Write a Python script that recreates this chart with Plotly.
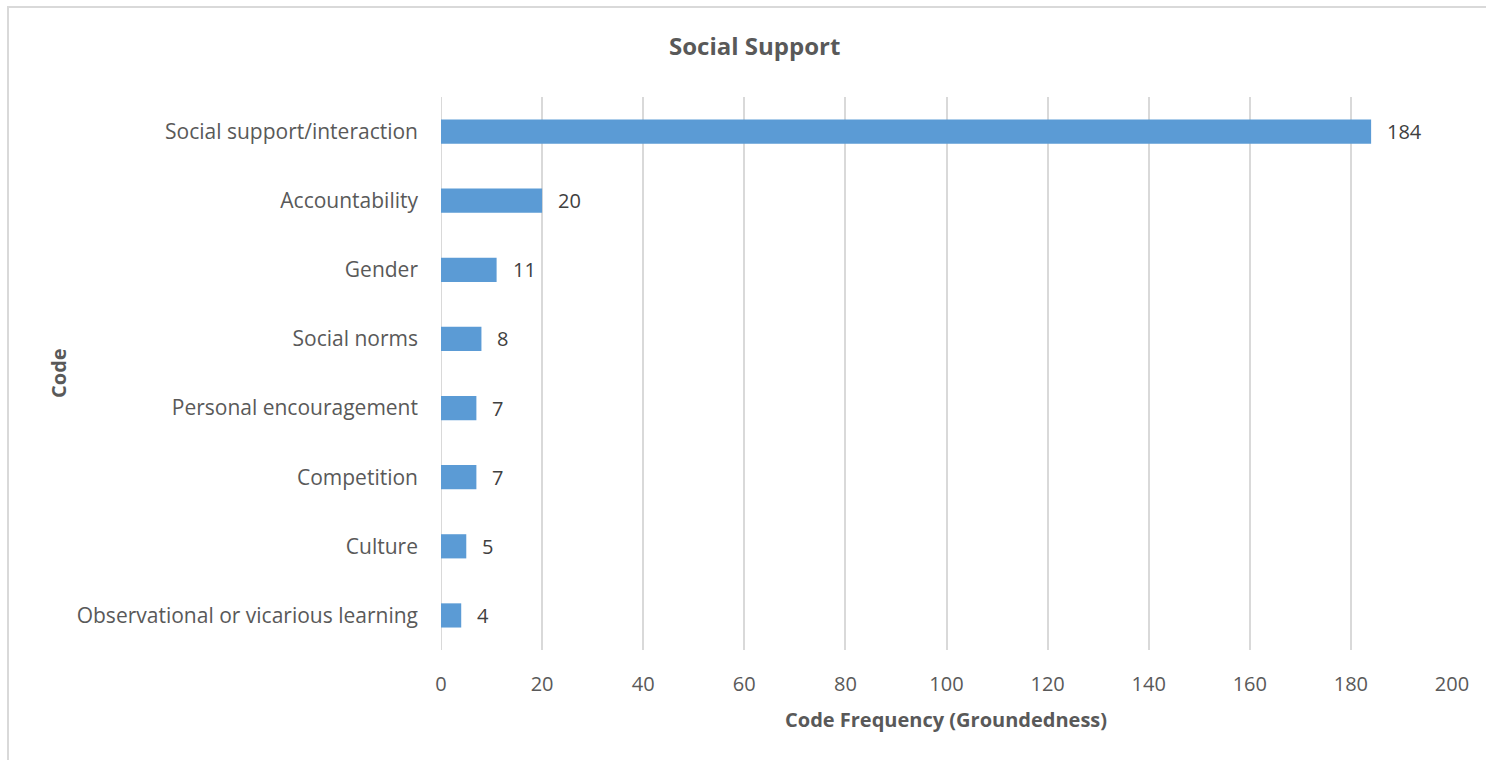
import plotly.graph_objects as go

# Code frequencies for the "Social Support" theme (top to bottom)
codes = [
    "Social support/interaction",
    "Accountability",
    "Gender",
    "Social norms",
    "Personal encouragement",
    "Competition",
    "Culture",
    "Observational or vicarious learning",
]
frequency = [184, 20, 11, 8, 7, 7, 5, 4]

x_ticks = [0, 20, 40, 60, 80, 100, 120, 140, 160, 180, 200]

W, H = 1486, 760
L, R, T, B = 441, 34, 97, 110
PW, PH = W - L - R, H - T - B


def px_x(p):
    return (p - L) / PW


def px_y(p):
    return 1 - (p - T) / PH


FONT = "Open Sans"
GREY = "#595959"
GRID = "#d9d9d9"

fig = go.Figure(
    go.Bar(
        x=frequency,
        y=codes,
        orientation="h",
        marker=dict(color="#5b9bd5", line=dict(width=0)),
        width=0.35,
        hoverinfo="x+y",
    )
)

# value labels just past each bar end
for c, v in zip(codes, frequency):
    fig.add_annotation(
        x=v, y=c, xref="x", yref="y", text=str(v), showarrow=False,
        xanchor="left", yanchor="middle", xshift=14,
        font=dict(family=FONT, size=20, color="#404040"),
    )

# chart title and axis titles
fig.add_annotation(
    x=px_x(754), y=px_y(46), xref="paper", yref="paper", text="<b>Social Support</b>",
    showarrow=False, xanchor="center", yanchor="middle",
    font=dict(family=FONT, size=24, color=GREY),
)
fig.add_annotation(
    x=px_x(946), y=px_y(719), xref="paper", yref="paper",
    text="<b>Code Frequency (Groundedness)</b>",
    showarrow=False, xanchor="center", yanchor="middle",
    font=dict(family=FONT, size=20, color=GREY),
)
fig.add_annotation(
    x=px_x(58), y=px_y(373), xref="paper", yref="paper", text="<b>Code</b>",
    showarrow=False, xanchor="center", yanchor="middle", textangle=-90,
    font=dict(family=FONT, size=20, color=GREY),
)

# thin outer frame of the chart area
fig.add_shape(
    type="rect", xref="paper", yref="paper",
    x0=px_x(8), x1=px_x(1500), y0=px_y(775), y1=px_y(7),
    line=dict(color=GRID, width=2), fillcolor="rgba(0,0,0,0)", layer="below",
)

# gridline at the left edge of the value axis (x = 0)
fig.add_shape(
    type="line", xref="x", yref="paper", x0=0, x1=0, y0=0, y1=1,
    line=dict(color=GRID, width=2), layer="below",
)

fig.update_layout(
    width=W, height=H,
    margin=dict(l=L, r=R, t=T, b=B, autoexpand=False),
    paper_bgcolor="white",
    plot_bgcolor="white",
    showlegend=False,
    xaxis=dict(
        range=[0, 200],
        tickvals=x_ticks,
        showgrid=True, gridcolor=GRID, gridwidth=2,
        zeroline=False,
        showline=False, ticks="",
        ticklabelstandoff=20,
        tickfont=dict(family=FONT, size=20, color=GREY),
        fixedrange=True,
    ),
    yaxis=dict(
        categoryorder="array", categoryarray=codes[::-1],
        showgrid=False, zeroline=False, showline=False, ticks="",
        ticklabelstandoff=22,
        tickfont=dict(family=FONT, size=21, color=GREY),
        fixedrange=True,
    ),
)

fig.write_html("out.html")
